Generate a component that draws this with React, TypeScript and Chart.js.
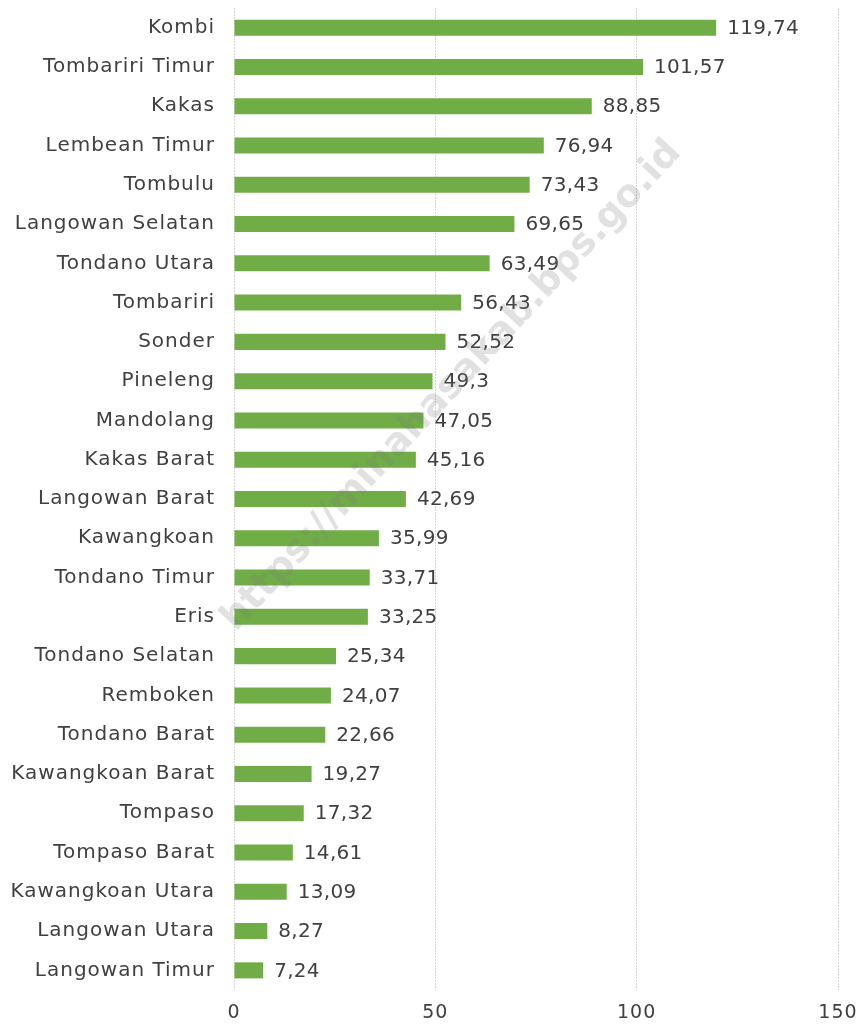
import React, { useEffect, useRef } from "react";
import { Chart, registerables } from "chart.js";

Chart.register(...registerables);

const categories = [
  "Kombi", "Tombariri Timur", "Kakas", "Lembean Timur", "Tombulu", "Langowan Selatan",
  "Tondano Utara", "Tombariri", "Sonder", "Pineleng", "Mandolang", "Kakas Barat",
  "Langowan Barat", "Kawangkoan", "Tondano Timur", "Eris", "Tondano Selatan", "Remboken",
  "Tondano Barat", "Kawangkoan Barat", "Tompaso", "Tompaso Barat", "Kawangkoan Utara",
  "Langowan Utara", "Langowan Timur",
];
const values = [
  119.74, 101.57, 88.85, 76.94, 73.43, 69.65, 63.49, 56.43, 52.52, 49.3, 47.05, 45.16,
  42.69, 35.99, 33.71, 33.25, 25.34, 24.07, 22.66, 19.27, 17.32, 14.61, 13.09, 8.27, 7.24,
];
const xTicks = [0, 50, 100, 150];
const watermark = "https://minahasakab.bps.go.id";

const FONT = "'DejaVu Sans', sans-serif";

const spacingPlugin = {
  id: "spacing",
  beforeDraw(chart: any) {
    chart.ctx.letterSpacing = "1px";
  },
};

const labelPlugin = {
  id: "valueLabels",
  afterDatasetsDraw(chart: any) {
    const ctx = chart.ctx;
    const meta = chart.getDatasetMeta(0);
    ctx.save();
    ctx.letterSpacing = "0.3px";
    ctx.font = `20px ${FONT}`;
    ctx.fillStyle = "#404040";
    ctx.textAlign = "left";
    ctx.textBaseline = "middle";
    meta.data.forEach((bar: any, i: number) => {
      const txt = String(values[i]).replace(".", ",");
      ctx.fillText(txt, bar.x + 11, bar.y + 1);
    });
    ctx.restore();
  },
};

const watermarkPlugin = {
  id: "watermark",
  afterDraw(chart: any) {
    const ctx = chart.ctx;
    ctx.save();
    ctx.letterSpacing = "0px";
    ctx.translate(452, 386);
    ctx.rotate((-47 * Math.PI) / 180);
    ctx.font = `bold 38px ${FONT}`;
    ctx.fillStyle = "rgba(120,120,120,0.22)";
    ctx.textAlign = "center";
    ctx.textBaseline = "middle";
    ctx.fillText(watermark, 0, 0);
    ctx.restore();
  },
};

export default function App() {
  const ref = useRef<HTMLCanvasElement>(null);
  useEffect(() => {
    document.body.style.margin = "0";
    const chart = new Chart(ref.current!, {
      type: "bar",
      data: {
        labels: categories,
        datasets: [
          {
            data: values,
            backgroundColor: "#70AD47",
            barPercentage: 0.8,
            categoryPercentage: 0.51,
          },
        ],
      },
      options: {
        indexAxis: "y",
        animation: false,
        responsive: false,
        layout: { padding: { top: 8, right: 27, left: 0, bottom: 0 } },
        plugins: { legend: { display: false }, tooltip: { enabled: false } },
        scales: {
          x: {
            min: 0,
            max: 150,
            afterBuildTicks(axis: any) {
              axis.ticks = xTicks.map((v) => ({ value: v }));
            },
            afterFit(axis: any) {
              axis.height = 35;
              axis.paddingLeft = 0;
              axis.paddingRight = 0;
            },
            grid: {
              color: "#d4d4d4",
              lineWidth: 1,
              drawTicks: false,
            },
            border: { display: false, dash: [2, 1] },
            ticks: {
              color: "#404040",
              font: { family: FONT, size: 19 },
              padding: 12,
            },
          },
          y: {
            afterFit(axis: any) {
              axis.width = 234;
              axis.paddingTop = 0;
              axis.paddingBottom = 0;
            },
            grid: { display: false, drawTicks: false, tickLength: 0 },
            border: { display: false },
            ticks: {
              color: "#404040",
              font: { family: FONT, size: 20 },
              padding: 19,
              autoSkip: false,
            },
          },
        },
      },
      plugins: [spacingPlugin, labelPlugin, watermarkPlugin],
    } as any);
    return () => chart.destroy();
  }, []);
  return <canvas ref={ref} width={865} height={1025} style={{ display: "block" }} />;
}
